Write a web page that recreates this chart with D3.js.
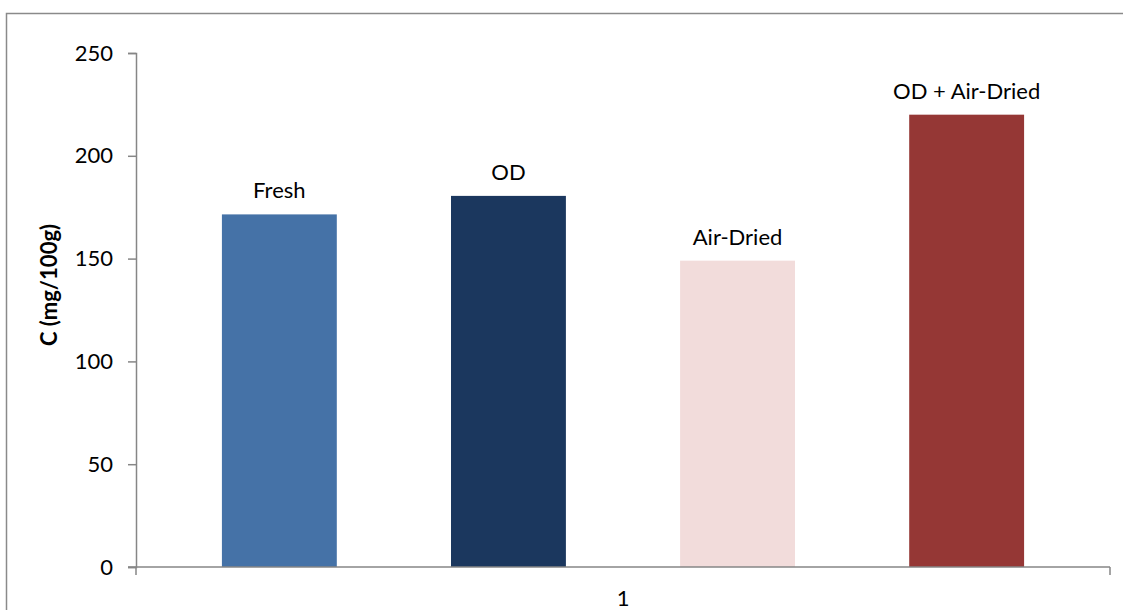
<!DOCTYPE html>
<html>
<head>
<meta charset="utf-8">
<script src="https://cdn.jsdelivr.net/npm/d3@7"></script>
<style>
  html, body { margin: 0; padding: 0; background: #fff; }
  svg { display: block; font-family: Lato, "Open Sans", sans-serif; }
</style>
</head>
<body>
<svg id="chart" width="1123" height="610"></svg>
<script>
// Vitamin C content by treatment
const categories = ["1"];
const series = ["Fresh", "OD", "Air-Dried", "OD + Air-Dried"];
const values = [171.5, 180.5, 149, 220];
const colors = ["#4572A7", "#1B375E", "#F2DCDB", "#953735"];
const yTicks = [0, 50, 100, 150, 200, 250];
const yTitle = "C (mg/100g)";

const FONT = "Lato, Open Sans, sans-serif";
const FS = 22;

const svg = d3.select("#chart");
const W = 1123, H = 610;
const margin = { left: 136, right: 13, top: 53, bottom: 43 };
const x0 = margin.left, x1 = W - margin.right;
const y0 = H - margin.bottom, y1 = margin.top;

// outer chart frame
svg.append("rect")
  .attr("x", 6.5).attr("y", 13.5)
  .attr("width", 1130).attr("height", 620)
  .attr("fill", "none").attr("stroke", "#8a8a8a").attr("stroke-width", 1.5);

const y = d3.scaleLinear().domain([0, 250]).range([y0, y1]);
const xCat = d3.scaleBand().domain(categories).range([x0, x1]);
const xSer = d3.scaleBand().domain(series)
  .range([0, xCat.bandwidth()]).paddingInner(0.4985).paddingOuter(0.375);

// bars and their series labels
const g = svg.append("g");
categories.forEach(cat => {
  series.forEach((s, i) => {
    const bx = xCat(cat) + xSer(s);
    g.append("rect")
      .attr("x", bx).attr("y", y(values[i]))
      .attr("width", xSer.bandwidth())
      .attr("height", y(0) - y(values[i]))
      .attr("fill", colors[i]);
    g.append("text")
      .attr("x", bx + xSer.bandwidth() / 2)
      .attr("y", y(values[i]) - 16)
      .attr("text-anchor", "middle")
      .attr("font-size", FS).attr("font-family", FONT).attr("fill", "#000")
      .text(s);
  });
});

// y axis
const yAxis = d3.axisLeft(y).tickValues(yTicks).tickSize(8).tickPadding(15);
const ya = svg.append("g").attr("transform", `translate(${x0},0)`).call(yAxis);
ya.select(".domain").attr("stroke", "#868686").attr("stroke-width", 1.5);
ya.selectAll(".tick line").attr("stroke", "#868686").attr("stroke-width", 1.5);
ya.selectAll(".tick text").attr("font-size", FS).attr("fill", "#000")
  .attr("font-family", FONT);

// x axis
const xAxis = d3.axisBottom(xCat).tickSize(0).tickPadding(23);
const xa = svg.append("g").attr("transform", `translate(0,${y0})`).call(xAxis);
xa.select(".domain").attr("stroke", "#868686").attr("stroke-width", 1.5)
  .attr("d", `M${x0 - 8},0H${x1}`);
xa.selectAll(".tick text").attr("font-size", FS).attr("fill", "#000")
  .attr("font-family", FONT);
// category boundary marks
[x0, x1].forEach(px => {
  xa.append("line").attr("x1", px).attr("x2", px).attr("y1", 0).attr("y2", 8)
    .attr("stroke", "#868686").attr("stroke-width", 1.5);
});

// y axis title
svg.append("text")
  .attr("transform", `translate(57,285) rotate(-90)`)
  .attr("text-anchor", "middle")
  .attr("font-size", FS).attr("font-family", FONT)
  .attr("font-weight", "bold").attr("fill", "#000")
  .text(yTitle);
</script>
</body>
</html>
